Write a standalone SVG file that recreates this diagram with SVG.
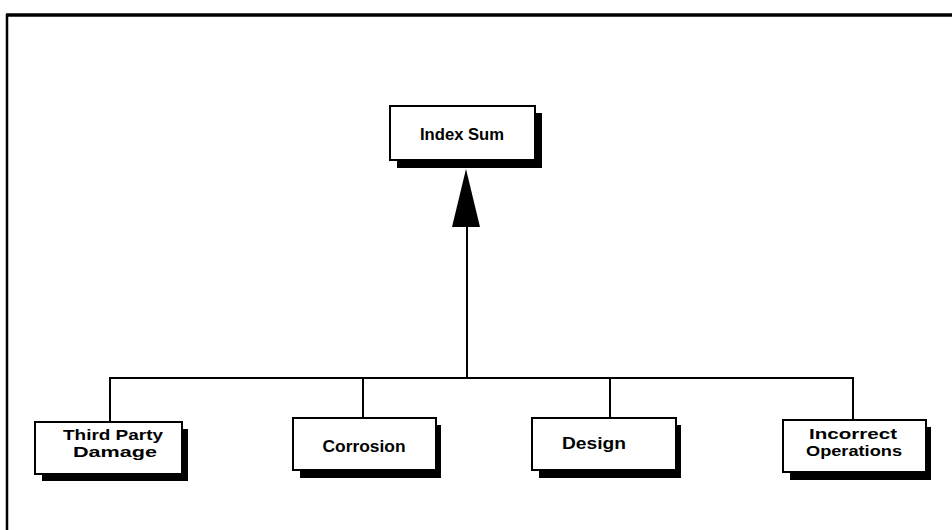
<svg xmlns="http://www.w3.org/2000/svg" width="952" height="530" viewBox="0 0 952 530">
<style>
.box{fill:#fff;stroke:#000;stroke-width:2}
.sh{fill:#000}
.t{font-family:"Liberation Sans",Arial,sans-serif;font-weight:bold;font-size:17px;fill:#000;text-anchor:middle}
.t2{font-size:15px}
.c{stroke:#000;stroke-width:2;fill:none}
</style>
<rect width="952" height="530" fill="#fff"/>
<g id="frame">
<line x1="6" y1="15" x2="952" y2="15" stroke="#000" stroke-width="3.5"/>
<line x1="7" y1="14" x2="7" y2="530" stroke="#000" stroke-width="2.5"/>
</g>
<g id="connectors">
<line class="c" x1="110" y1="378" x2="854" y2="378"/>
<line class="c" x1="110" y1="377" x2="110" y2="422"/>
<line class="c" x1="363" y1="377" x2="363" y2="418"/>
<line class="c" x1="610" y1="377" x2="610" y2="418"/>
<line class="c" x1="853" y1="377" x2="853" y2="420"/>
<line class="c" x1="467" y1="378" x2="467" y2="225"/>
<polygon points="466,169 452,227 480,227" fill="#000"/>
</g>
<g id="index-sum">
<rect class="sh" x="397" y="113" width="145" height="55"/>
<rect class="box" x="390" y="106" width="145" height="54"/>
<text class="t" x="462" y="140" textLength="84" lengthAdjust="spacingAndGlyphs">Index Sum</text>
</g>
<g id="third-party-damage">
<rect class="sh" x="42" y="429" width="146" height="52"/>
<rect class="box" x="35" y="422" width="147" height="52"/>
<text class="t t2" x="113" y="440" textLength="100" lengthAdjust="spacingAndGlyphs">Third Party</text>
<text class="t t2" x="115" y="457" textLength="84" lengthAdjust="spacingAndGlyphs">Damage</text>
</g>
<g id="corrosion">
<rect class="sh" x="300" y="425" width="141" height="53"/>
<rect class="box" x="293" y="418" width="143" height="52"/>
<text class="t" x="364" y="452" textLength="83" lengthAdjust="spacingAndGlyphs">Corrosion</text>
</g>
<g id="design">
<rect class="sh" x="539" y="425" width="142" height="53"/>
<rect class="box" x="532" y="418" width="144" height="52"/>
<text class="t" x="594" y="449" textLength="64" lengthAdjust="spacingAndGlyphs">Design</text>
</g>
<g id="incorrect-operations">
<rect class="sh" x="790" y="427" width="141" height="53"/>
<rect class="box" x="783" y="420" width="143" height="52"/>
<text class="t t2" x="853" y="439" textLength="88" lengthAdjust="spacingAndGlyphs">Incorrect</text>
<text class="t t2" x="854" y="456" textLength="96" lengthAdjust="spacingAndGlyphs">Operations</text>
</g>
</svg>
